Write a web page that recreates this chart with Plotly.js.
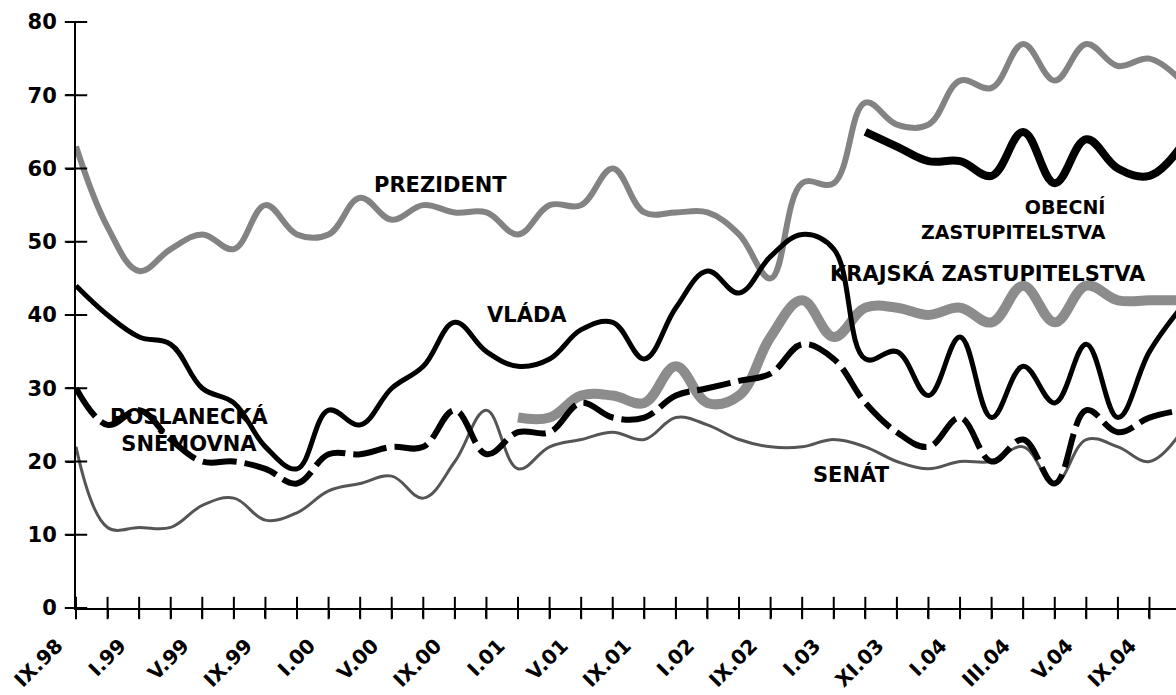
<!DOCTYPE html>
<html>
<head>
<meta charset="utf-8">
<script src="https://cdn.plot.ly/plotly-3.0.1.min.js"></script>
<style>html,body{margin:0;padding:0;background:#fff;}#chart{width:1176px;height:695px;}#note{position:absolute;left:100px;top:30px;font:12px monospace;color:#fff;white-space:pre;background:rgba(255,255,255,0.8);pointer-events:none;}</style>
</head>
<body>
<div id="chart"></div>
<div id="note"></div>
<script>
// Survey tick labels (one label every second survey)
const tickLabels = ['IX.98','I.99','V.99','IX.99','I.00','V.00','IX.00','I.01','V.01','IX.01','I.02','IX.02','I.03','XI.03','I.04','III.04','V.04','IX.04'];
const yTickVals = [0,10,20,30,40,50,60,70,80];

// Series values (percent trust), one value per survey
const prezident = [63,52,46,49,51,49,55,51,51,56,53,55,54,54,51,55,55,60,54,54,54,51,45,58,58,69,66,66,72,71,77,72,77,74,75,72];
const vlada     = [44,40,37,36,30,28,22,19,27,25,30,33,39,35,33,34,38,39,34,41,46,43,48,51,49,34,35,29,37,26,33,28,36,26,35,41];
const snemovna  = [30,25,27,23,20,20,19,17,21,21,22,22,27,21,24,24,28,26,26,29,30,31,32,36,34,28,24,22,26,20,23,17,27,24,26,27];
const senat     = [22,11,11,11,14,15,12,13,16,17,18,15,20,27,19,22,23,24,23,26,25,23,22,22,23,22,20,19,20,20,22,17,23,22,20,24];
const krajska   = [null,null,null,null,null,null,null,null,null,null,null,null,null,null,26,26,29,29,28,33,28,29,37,42,37,41,41,40,41,39,44,39,44,42,42,42];
const obecni    = [null,null,null,null,null,null,null,null,null,null,null,null,null,null,null,null,null,null,null,null,null,null,null,null,null,65,63,61,61,59,65,58,64,60,59,63];

const idx = prezident.map((_, i) => i);
const tickVals = idx.filter(i => i < tickLabels.length * 2 - 1);
const tickText = tickVals.map(i => (i % 2 === 0 ? tickLabels[i / 2] : ''));

function line(y, color, width, dash) {
  return {x: idx, y: y, type: 'scatter', mode: 'lines', hoverinfo: 'skip',
    line: {color: color, width: width, shape: 'spline', smoothing: 1.1, dash: dash || 'solid'}};
}

// crossing tick marks drawn as line markers on the axes
const tickMarks = [
  {x: tickVals, y: tickVals.map(() => 0), type: 'scatter', mode: 'markers', cliponaxis: false, hoverinfo: 'skip',
   marker: {symbol: 'line-ns', size: 16, color: '#000', line: {color: '#000', width: 2}}},
  {x: yTickVals.map(() => 0), y: yTickVals, type: 'scatter', mode: 'markers', cliponaxis: false, hoverinfo: 'skip',
   marker: {symbol: 'line-ew', size: 16, color: '#000', line: {color: '#000', width: 2}}}
];

const traces = [
  line(krajska, '#8c8c8c', 10),
  line(senat, '#555555', 3),
  line(snemovna, '#000000', 6, '34px,8px'),
  line(prezident, '#838383', 6),
  line(vlada, '#000000', 5),
  line(obecni, '#000000', 8)
].concat(tickMarks);

const XR = [0, 34.84];
const xTickFont = {family: 'DejaVu Sans', size: 20, weight: 'bold', color: '#000'};
const yTickFont = {family: 'DejaVu Sans', size: 21, weight: 'bold', color: '#000'};
const labFont = {family: 'DejaVu Sans', size: 21, weight: 'bold', color: '#000'};

const layout = {
  width: 1176, height: 695,
  margin: {l: 76, r: 0, t: 22, b: 87, pad: 0},
  paper_bgcolor: '#fff', plot_bgcolor: '#fff',
  showlegend: false,
  xaxis: {range: XR, tickmode: 'array', tickvals: tickVals, ticktext: tickText, tickangle: -45,
    ticklabelshift: -19, ticklabelstandoff: 8,
    ticks: 'outside', ticklen: 8, tickwidth: 2, tickcolor: '#000',
    showline: true, linecolor: '#000', linewidth: 2, showgrid: false, zeroline: false, tickfont: xTickFont},
  yaxis: {range: [0, 80], tickmode: 'array', tickvals: yTickVals,
    ticks: 'outside', ticklen: 8, tickwidth: 2, tickcolor: '#000', ticklabelstandoff: 5,
    showline: true, linecolor: '#000', linewidth: 2, showgrid: false, zeroline: false, tickfont: yTickFont},
  annotations: [
    {text: 'PREZIDENT', x: 11.53, y: 57.75, showarrow: false, font: labFont},
    {text: 'VLÁDA', x: 14.3, y: 40.1, showarrow: false, font: labFont},
    {text: 'POSLANECKÁ<br>SNĚMOVNA', x: 3.59, y: 24.3, showarrow: false, font: labFont, align: 'center'},
    {text: 'SENÁT', x: 24.55, y: 18.2, showarrow: false, font: labFont},
    {text: 'OBECNÍ<br>ZASTUPITELSTVA', x: 32.69, y: 53.0, xanchor: 'right', align: 'right', showarrow: false,
     font: Object.assign({}, labFont, {size: 19})},
    {text: 'KRAJSKÁ ZASTUPITELSTVA', x: 28.87, y: 45.67, showarrow: false, font: labFont}
  ]
};

Plotly.newPlot('chart', traces, layout, {displayModeBar: false}).then(function(gd) {
  setTimeout(function() {
    document.getElementById('note').textContent = 'ready\n' + gd.querySelectorAll('.xtick text').length;
  }, 300);
});
</script>
</body>
</html>
